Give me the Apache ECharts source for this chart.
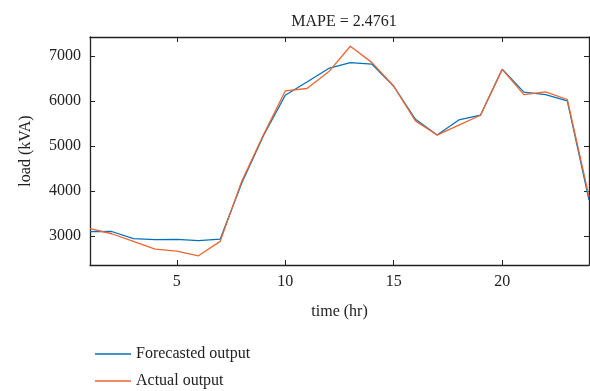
<!DOCTYPE html>
<html lang="en">
  <head>
    <meta charset="UTF-8" />
    <title>Load forecast</title>
    <script src="https://cdn.jsdelivr.net/npm/echarts@6/dist/echarts.min.js"></script>
    <style>
      html, body { margin: 0; padding: 0; background: #fff; }
      #chart { width: 590px; height: 391px; }
    </style>
  </head>
  <body>
    <div id="chart"></div>
    <script>
      // hours 1..24
      const hours = [1, 2, 3, 4, 5, 6, 7, 8, 9, 10, 11, 12, 13, 14, 15, 16, 17, 18, 19, 20, 21, 22, 23, 24];
      const forecasted = [3090, 3095, 2935, 2915, 2920, 2890, 2925, 4180, 5230, 6125, 6420, 6720, 6850, 6815, 6325, 5590, 5240, 5575, 5685, 6705, 6195, 6140, 6000, 3800];
      const actual = [3160, 3045, 2875, 2705, 2660, 2555, 2875, 4220, 5250, 6220, 6275, 6645, 7215, 6850, 6325, 5555, 5240, 5460, 5680, 6700, 6140, 6200, 6030, 3870];
      const xTicks = [5, 10, 15, 20];
      const yTicks = [3000, 4000, 5000, 6000, 7000];

      const font = "'Liberation Serif', 'DejaVu Serif', serif";
      const axisColor = '#222';
      const blue = '#0072BD';
      const orange = '#EF6530';

      const chart = echarts.init(document.getElementById('chart'));

      function pairs(ys) {
        return hours.map((h, i) => [h, ys[i]]);
      }

      // box axes: bottom/left carry labels, top/right only ticks
      function xAx(pos, labels) {
        return {
          type: 'value', position: pos, min: 1, max: 24,
          name: labels ? 'time (hr)' : '', nameLocation: 'middle', nameGap: 39,
          nameTextStyle: { fontFamily: font, fontSize: 16, color: '#222' },
          axisLine: { show: true, onZero: false, lineStyle: { color: axisColor, width: 1.3 } },
          axisTick: { show: true, inside: true, length: 5, customValues: xTicks, lineStyle: { color: axisColor } },
          axisLabel: { show: labels, customValues: xTicks, fontFamily: font, fontSize: 16, color: '#222', margin: 9 },
          splitLine: { show: false }
        };
      }
      function yAx(pos, labels) {
        return {
          type: 'value', position: pos, min: 2350, max: 7420,
          name: labels ? 'load (kVA)' : '', nameLocation: 'middle', nameGap: 56,
          nameTextStyle: { fontFamily: font, fontSize: 16, color: '#222' },
          axisLine: { show: true, onZero: false, lineStyle: { color: axisColor, width: 1.3 } },
          axisTick: { show: true, inside: true, length: 5, customValues: yTicks, lineStyle: { color: axisColor } },
          axisLabel: {
            show: labels, customValues: yTicks, fontFamily: font, fontSize: 16, color: '#222', margin: 9,
            formatter: v => String(v)
          },
          splitLine: { show: false }
        };
      }

      function legendItem(name, top) {
        return {
          left: 90, top: top, icon: 'rect', itemWidth: 36, itemHeight: 1.5, itemGap: 12,
          textStyle: { fontFamily: font, fontSize: 16, color: '#222' },
          data: [name]
        };
      }

      chart.setOption({
        backgroundColor: '#fff',
        animation: false,
        title: {
          text: 'MAPE = 2.4761', left: 339, top: 9, textAlign: 'center',
          textStyle: { fontFamily: font, fontSize: 16, fontWeight: 'normal', color: '#222' }
        },
        grid: { left: 90, right: 1, top: 37, bottom: 126 },
        legend: [legendItem('Forecasted output', 341), legendItem('Actual output', 368)],
        xAxis: [xAx('bottom', true), xAx('top', false)],
        yAxis: [yAx('left', true), yAx('right', false)],
        series: [
          {
            name: 'Forecasted output', type: 'line', data: pairs(forecasted),
            symbol: 'none', lineStyle: { color: blue, width: 1.3 }, itemStyle: { color: blue }
          },
          {
            name: 'Actual output', type: 'line', data: pairs(actual),
            symbol: 'none', lineStyle: { color: orange, width: 1.3 }, itemStyle: { color: orange }
          }
        ]
      });
    </script>
  </body>
</html>
